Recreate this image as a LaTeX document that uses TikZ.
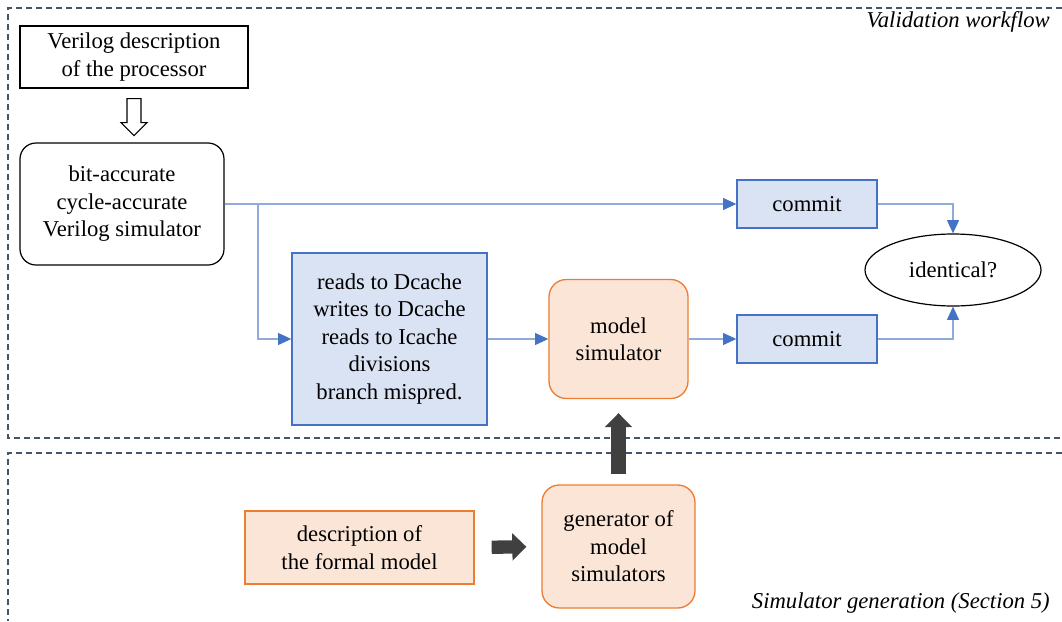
\documentclass[tikz,border=0pt]{standalone}
\usepackage{fontspec}
\setmainfont{Liberation Serif}
\usetikzlibrary{arrows.meta,calc,shapes.geometric}
\definecolor{bluefill}{HTML}{DAE3F3}
\definecolor{blueline}{HTML}{4472C4}
\definecolor{bluelight}{HTML}{8FAADC}
\definecolor{orfill}{HTML}{FBE5D6}
\definecolor{orline}{HTML}{ED7D31}
\definecolor{dashcol}{HTML}{44546A}
\definecolor{darkarrow}{HTML}{404040}
\tikzset{
  base/.style={align=center, inner sep=0pt, font=\fontsize{17}{20.6}\selectfont},
  whitebox/.style={base, draw=black, line width=0.9pt},
  bluebox/.style={base, draw=blueline, fill=bluefill, line width=1pt},
  orbox/.style={base, draw=orline, fill=orfill, line width=1pt},
  conn/.style={draw=bluelight, line width=1pt, -{Triangle[length=10pt,width=9pt,color=blueline]}},
  bigup/.style={draw=darkarrow, line width=11pt, -{Triangle[length=10.5pt,width=20pt]}},
  bigright/.style={draw=darkarrow, line width=10pt, -{Triangle[length=10.5pt,width=20pt]}},
  frame/.style={draw=dashcol, line width=1.1pt, dash pattern=on 4.5pt off 3pt},
  lbl/.style={font=\fontsize{17}{20}\selectfont\itshape, anchor=east, inner sep=0pt}
}
\begin{document}
\begin{tikzpicture}[x=0.75pt,y=-0.75pt]
\useasboundingbox (0,0) rectangle (1062,621);
% frames
\draw[frame] (1062,8) -- (8,8) -- (8,438) -- (1062,438);
\draw[frame] (1062,453) -- (8,453) -- (8,621);
\node[lbl] (vw) at (1050,22) {Validation workflow};
\node[lbl] (sg) at (1050,603) {Simulator generation (Section 5)};
% nodes
\node[whitebox, minimum width=171pt, minimum height=46.5pt] (verilog) at (134,57) {Verilog description\\of the processor};
\node[whitebox, rounded corners=12pt, minimum width=153pt, minimum height=91.5pt] (bitsim) at (122,204) {bit-accurate\\cycle-accurate\\Verilog simulator};
\node[bluebox, minimum width=146.25pt, minimum height=129pt] (events) at (389.5,339) {reads to Dcache\\writes to Dcache\\reads to Icache\\divisions\\branch mispred.};
\node[orbox, rounded corners=13pt, minimum width=104.25pt, minimum height=89.25pt] (model) at (618.5,339) {model\\simulator};
\node[bluebox, minimum width=105pt, minimum height=36pt] (commitA) at (807,204) {commit};
\node[bluebox, minimum width=105pt, minimum height=36pt] (commitB) at (807,339) {commit};
\node[base, draw=black, line width=0.9pt, ellipse, minimum width=132pt, minimum height=54pt] (ident) at (953,270) {identical?};
\node[orbox, minimum width=171.75pt, minimum height=54.75pt] (formal) at (359.5,547.5) {description of\\the formal model};
\node[orbox, rounded corners=13pt, minimum width=114.75pt, minimum height=92.25pt] (gen) at (618.5,546.5) {generator of\\model\\simulators};
% hollow arrow
\draw[line width=0.9pt, fill=white]
  ($(verilog.south)+(-7,10)$) -- ($(verilog.south)+(7,10)$) -- ($(verilog.south)+(7,34)$)
  -- ($(verilog.south)+(13,34)$) -- ($(verilog.south)+(0,47)$) -- ($(verilog.south)+(-13,34)$)
  -- ($(verilog.south)+(-7,34)$) -- cycle;
% connectors
\coordinate (br) at (258,204);
\draw[conn] (bitsim.east) -- (commitA.west);
\draw[conn] (br) |- (events.west);
\draw[conn] (events.east) -- (model.west);
\draw[conn] (model.east) -- (commitB.west);
\draw[conn] (commitA.east) -| (ident.north);
\draw[conn] (commitB.east) -| (ident.south);
\draw[bigup, shorten <=8pt, shorten >=10.5pt] (gen.north) -- (model.south);
\draw[bigright, shorten <=12.75pt, shorten >=11.25pt] (formal.east) -- (gen.west);
\end{tikzpicture}
\end{document}
